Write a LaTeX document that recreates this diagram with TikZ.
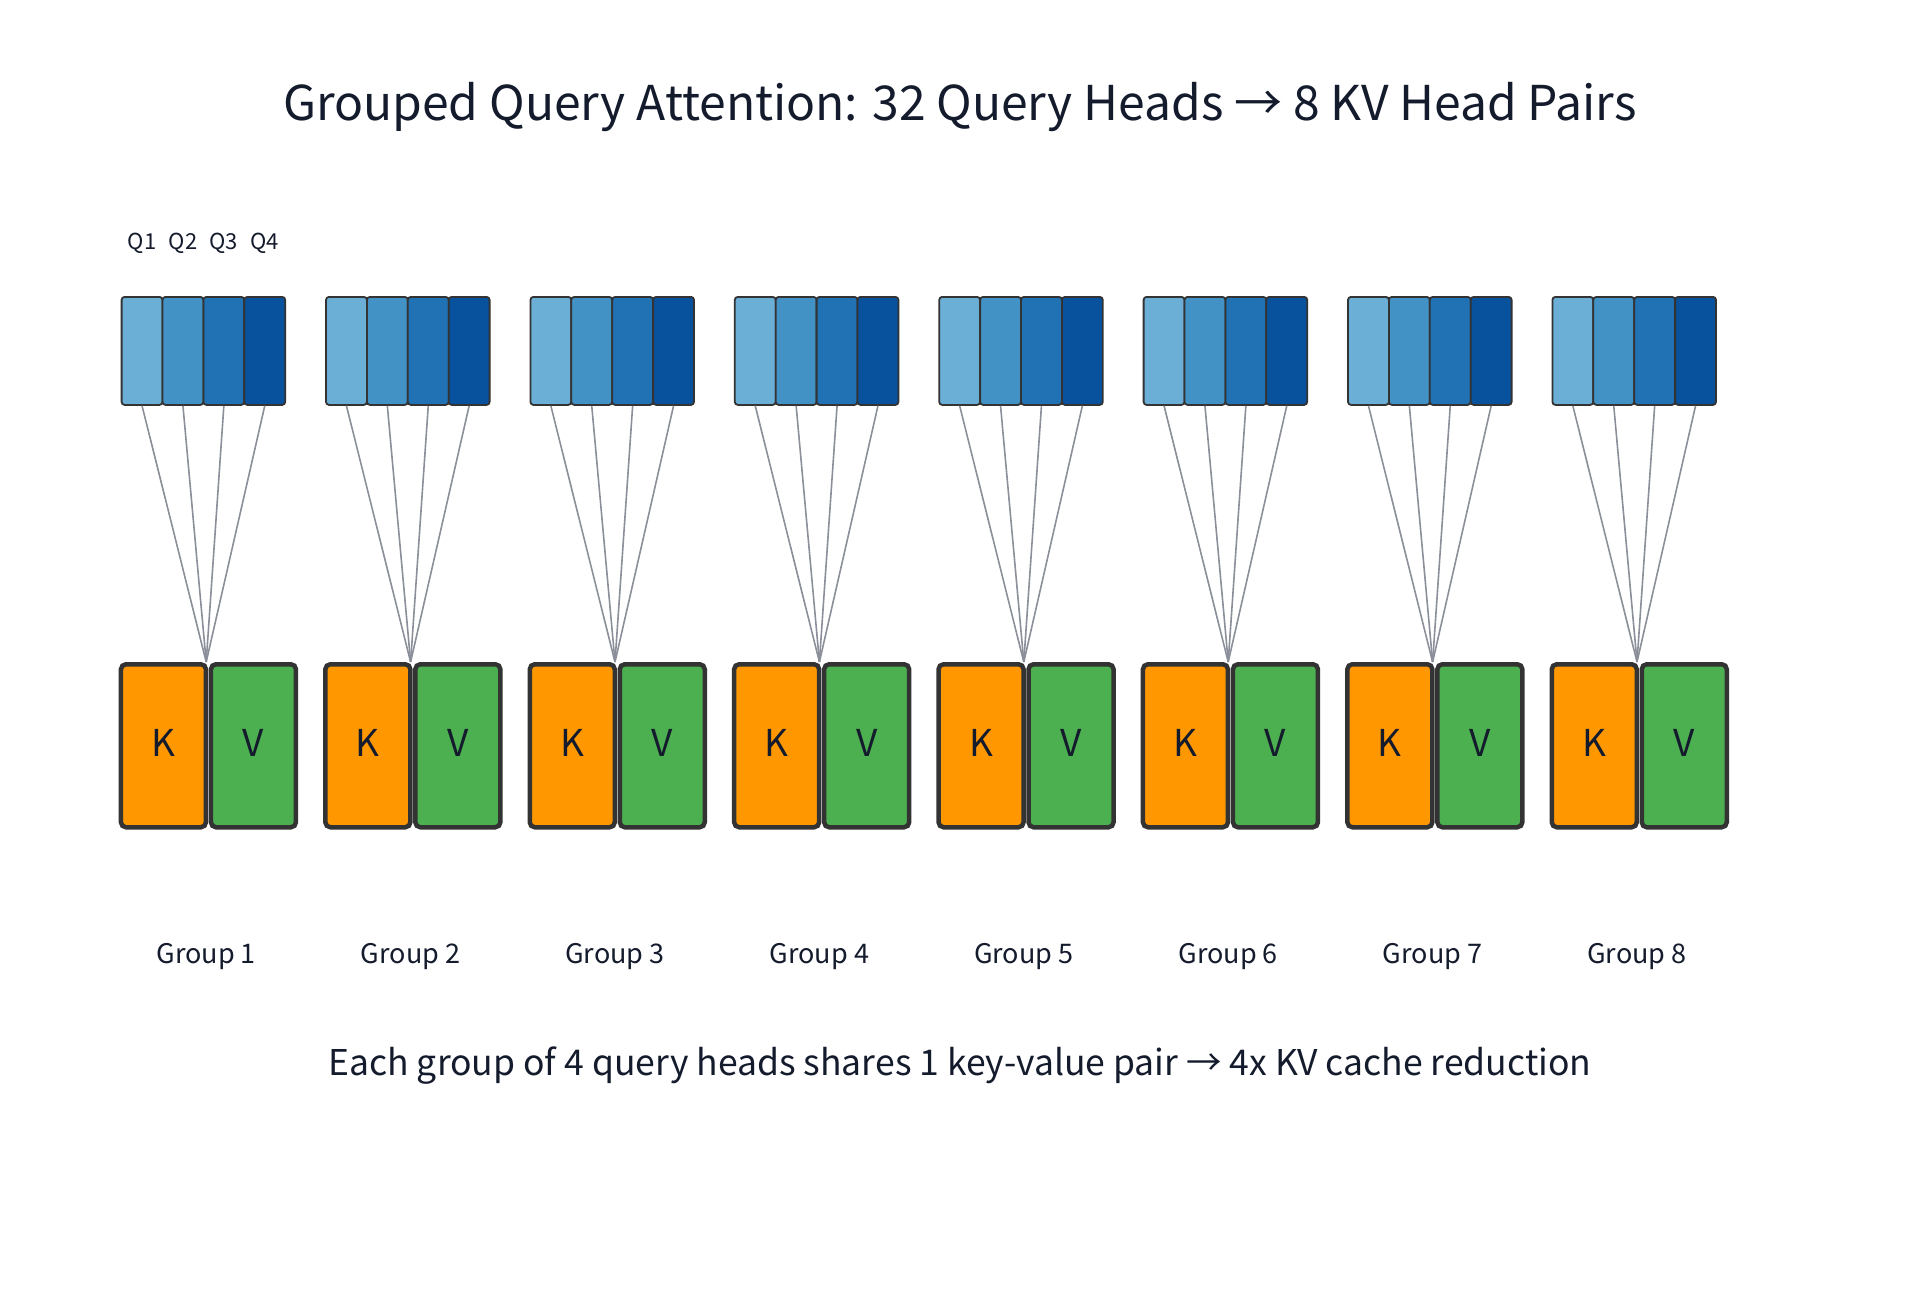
\documentclass[tikz,border=0pt]{standalone}
\usepackage{fontspec}
\setmainfont{Noto Sans CJK KR}
\definecolor{qone}{HTML}{6BAED6}
\definecolor{qtwo}{HTML}{4292C6}
\definecolor{qthree}{HTML}{2171B5}
\definecolor{qfour}{HTML}{08519C}
\definecolor{keycol}{HTML}{FF9800}
\definecolor{valcol}{HTML}{4CAF50}
\definecolor{boxline}{HTML}{333333}
\definecolor{fanline}{HTML}{8A8F99}
\definecolor{ink}{HTML}{141B2D}

\begin{document}
\begin{tikzpicture}[x=1pt, y=-1pt,
		every node/.style = {text=ink, inner sep=0pt},
		qhead/.style = {draw=boxline, line width=1.8pt, rounded corners=3pt,
			minimum width=40.9pt, minimum height=108pt, anchor=north west},
		kvbox/.style = {draw=boxline, line width=4.5pt, rounded corners=5pt,
			minimum width=85pt, minimum height=163pt, anchor=north west,
			font=\fontsize{37}{40}\selectfont},
		fan/.style = {draw=fanline, line width=1.6pt},
		grouplabel/.style = {anchor=base, font=\fontsize{27}{30}\selectfont},
		qlabel/.style = {anchor=base, font=\fontsize{22}{24}\selectfont}]
	
	\useasboundingbox (0,0) rectangle (1920,1292);
	
	\node[anchor=base, font=\fontsize{48}{56}\selectfont] (title) at (960,121)
		{Grouped Query Attention: 32 Query Heads → 8 KV Head Pairs};
	
	\foreach \g in {1,...,8} {
		\pgfmathsetmacro{\ox}{120.7+(\g-1)*204.4}
		% query heads
		\foreach \j/\col in {1/qone,2/qtwo,3/qthree,4/qfour}
			\node[qhead, fill=\col] (q\g\j) at ({\ox+(\j-1)*40.9},296) {};
		% shared key-value pair
		\node[kvbox, fill=keycol] (k\g) at ({\ox-2},662) {};
		\node[kvbox, fill=valcol] (v\g) at ({\ox+88},662) {};
		\node[anchor=base, font=\fontsize{37}{40}\selectfont] at ([yshift=-94pt]k\g.north) {K};
		\node[anchor=base, font=\fontsize{37}{40}\selectfont] at ([yshift=-94pt]v\g.north) {V};
		\coordinate (top\g) at ({\ox+85.5},662);
		\foreach \j in {1,...,4}
			\draw[fan] (q\g\j.south) -- (top\g);
		\node[grouplabel] (g\g) at ({\ox+85.5},963) {Group \g};
	}
	
	\foreach \j in {1,...,4}
		\node[qlabel] (ql\j) at ([yshift=46pt]q1\j.north) {Q\j};
	
	\node[anchor=base, font=\fontsize{35.5}{40}\selectfont] (note) at (960,1075)
		{Each group of 4 query heads shares 1 key-value pair → 4x KV cache reduction};
\end{tikzpicture}
\end{document}
